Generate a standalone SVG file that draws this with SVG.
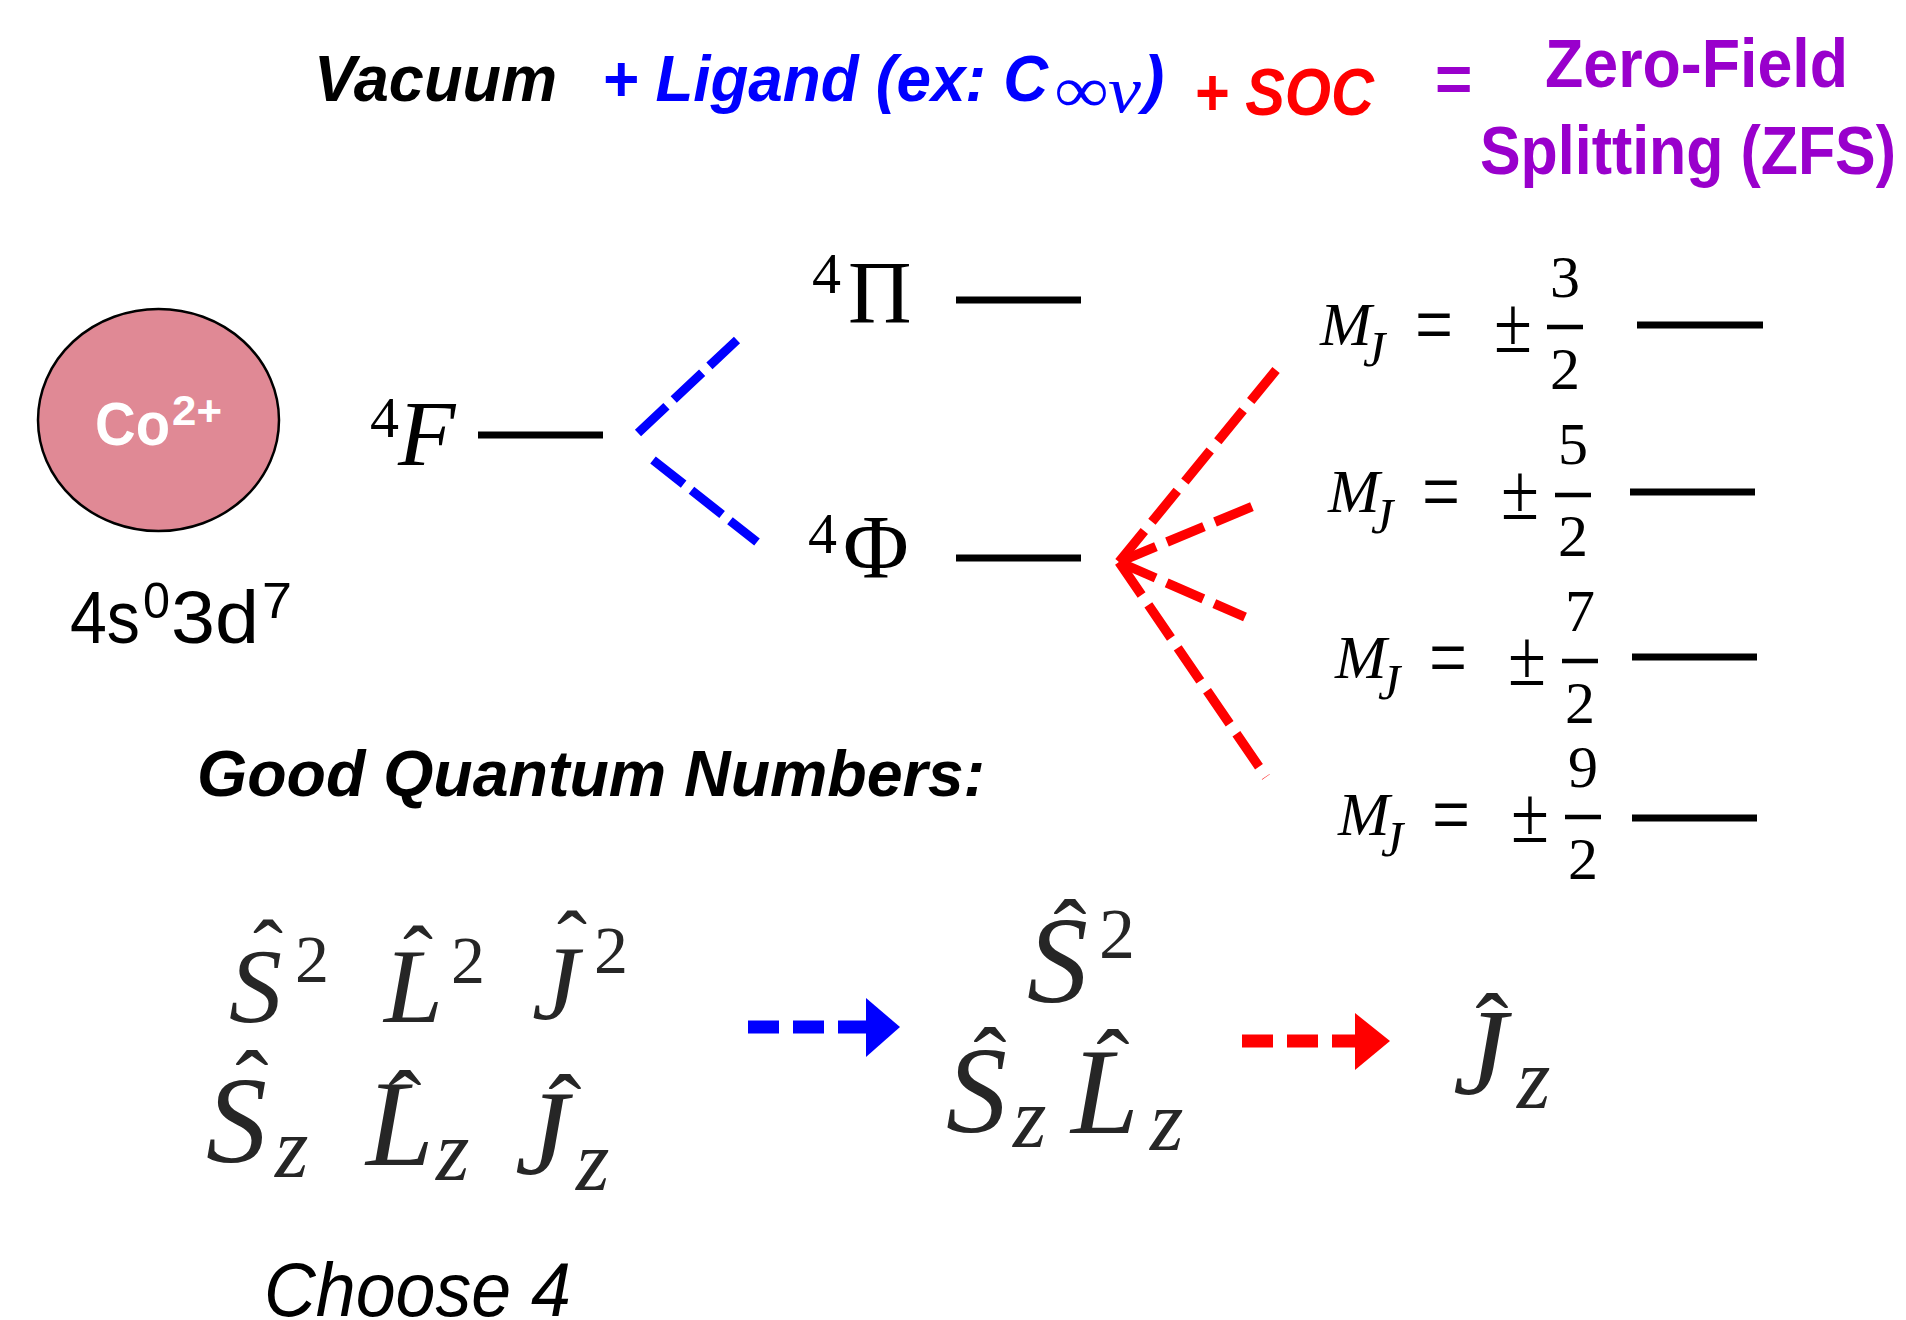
<svg xmlns="http://www.w3.org/2000/svg" width="1906" height="1320" viewBox="0 0 1906 1320">
<style>
.ttl{font-family:"Liberation Sans",Arial,sans-serif;font-weight:bold;font-style:italic;}
.pur{font-family:"Liberation Sans",Arial,sans-serif;font-weight:bold;fill:#9900CC;}
.ser{font-family:"Liberation Serif","Times New Roman",serif;}
.it{font-style:italic;}
.lvl{stroke:#000;stroke-width:7;fill:none;}
.fr{stroke:#000;stroke-width:4.5;}
.tex{font-family:"Liberation Serif","Times New Roman",serif;fill:#262626;}
.blue{stroke:#0000FF;stroke-width:9;fill:none;stroke-dasharray:39 10;}
.red{stroke:#FF0000;stroke-width:9.5;fill:none;stroke-dasharray:40 12;}
.sans{font-family:"Liberation Sans",Arial,sans-serif;}
</style>
<rect width="1906" height="1320" fill="#fff"/>

<g id="title">
<text class="ttl" x="314" y="101" font-size="64" textLength="243" lengthAdjust="spacingAndGlyphs">Vacuum</text>
<text class="ttl" x="602" y="101" font-size="64" fill="#0000FF" textLength="446" lengthAdjust="spacingAndGlyphs">+ Ligand (ex: C</text>
<text class="ser it" x="1055" y="112" font-size="66" fill="#0000FF" textLength="86" lengthAdjust="spacingAndGlyphs">∞v</text>
<text class="ttl" x="1143" y="101" font-size="64" fill="#0000FF">)</text>
<text class="ttl" x="1194" y="115" font-size="66" fill="#FF0000" textLength="180" lengthAdjust="spacingAndGlyphs">+ SOC</text>
<text class="pur" x="1435" y="101" font-size="64">=</text>
<text class="pur" x="1545" y="87" font-size="68" textLength="303" lengthAdjust="spacingAndGlyphs">Zero-Field</text>
<text class="pur" x="1480" y="174" font-size="68" textLength="416" lengthAdjust="spacingAndGlyphs">Splitting (ZFS)</text>
</g>

<g id="ion">
<ellipse cx="158.5" cy="420" rx="120.5" ry="111" fill="#E08995" stroke="#000" stroke-width="2.5"/>
<text class="sans" x="95" y="445" font-weight="bold" fill="#fff" font-size="62" textLength="75" lengthAdjust="spacingAndGlyphs">Co</text>
<text class="sans" x="172" y="425" font-weight="bold" fill="#fff" font-size="42" textLength="50" lengthAdjust="spacingAndGlyphs">2+</text>
</g>

<g id="config" class="sans" fill="#000">
<text x="70" y="643" font-size="74" textLength="70" lengthAdjust="spacingAndGlyphs">4s</text>
<text x="143" y="618" font-size="50" textLength="27" lengthAdjust="spacingAndGlyphs">0</text>
<text x="171" y="643" font-size="74" textLength="88" lengthAdjust="spacingAndGlyphs">3d</text>
<text x="262" y="618" font-size="50" textLength="30" lengthAdjust="spacingAndGlyphs">7</text>
</g>

<g id="term-4F">
<text class="ser"><tspan x="370" y="437" font-size="58">4</tspan><tspan class="it" x="398" y="465" font-size="94">F</tspan></text>
<line class="lvl" x1="478" y1="435" x2="603" y2="435"/>
</g>

<g id="term-4Pi">
<text class="ser"><tspan x="812" y="293" font-size="58">4</tspan><tspan x="848" y="322" font-size="88">Π</tspan></text>
<line class="lvl" x1="956" y1="300" x2="1081" y2="300"/>
</g>

<g id="term-4Phi">
<text class="ser"><tspan x="808" y="553" font-size="58">4</tspan><tspan x="843" y="578" font-size="90">Φ</tspan></text>
<line class="lvl" x1="956" y1="558" x2="1081" y2="558"/>
</g>

<g id="mj-3-2" class="ser">
<text><tspan class="it" x="1320" y="345" font-size="62">M</tspan><tspan class="it" x="1363" y="366" font-size="50">J</tspan><tspan x="1415" y="354" font-size="88" textLength="38" lengthAdjust="spacingAndGlyphs">=</tspan><tspan x="1494" y="352" font-size="80" textLength="38" lengthAdjust="spacingAndGlyphs">±</tspan></text>
<text x="1565" y="297" font-size="60" text-anchor="middle">3</text>
<line class="fr" x1="1547" y1="327" x2="1583" y2="327"/>
<text x="1565" y="389" font-size="60" text-anchor="middle">2</text>
<line class="lvl" x1="1637" y1="325" x2="1763" y2="325"/>
</g>

<g id="mj-5-2" class="ser">
<text><tspan class="it" x="1328" y="512" font-size="62">M</tspan><tspan class="it" x="1371" y="533" font-size="50">J</tspan><tspan x="1422" y="521" font-size="88" textLength="38" lengthAdjust="spacingAndGlyphs">=</tspan><tspan x="1501" y="519" font-size="80" textLength="38" lengthAdjust="spacingAndGlyphs">±</tspan></text>
<text x="1573" y="464" font-size="60" text-anchor="middle">5</text>
<line class="fr" x1="1555" y1="495" x2="1591" y2="495"/>
<text x="1573" y="556" font-size="60" text-anchor="middle">2</text>
<line class="lvl" x1="1630" y1="492" x2="1755" y2="492"/>
</g>

<g id="mj-7-2" class="ser">
<text><tspan class="it" x="1335" y="678" font-size="62">M</tspan><tspan class="it" x="1378" y="699" font-size="50">J</tspan><tspan x="1429" y="687" font-size="88" textLength="38" lengthAdjust="spacingAndGlyphs">=</tspan><tspan x="1508" y="685" font-size="80" textLength="38" lengthAdjust="spacingAndGlyphs">±</tspan></text>
<text x="1580" y="631" font-size="60" text-anchor="middle">7</text>
<line class="fr" x1="1562" y1="661" x2="1598" y2="661"/>
<text x="1580" y="723" font-size="60" text-anchor="middle">2</text>
<line class="lvl" x1="1632" y1="657" x2="1757" y2="657"/>
</g>

<g id="mj-9-2" class="ser">
<text><tspan class="it" x="1338" y="835" font-size="62">M</tspan><tspan class="it" x="1381" y="856" font-size="50">J</tspan><tspan x="1432" y="844" font-size="88" textLength="38" lengthAdjust="spacingAndGlyphs">=</tspan><tspan x="1511" y="842" font-size="80" textLength="38" lengthAdjust="spacingAndGlyphs">±</tspan></text>
<text x="1583" y="787" font-size="60" text-anchor="middle">9</text>
<line class="fr" x1="1565" y1="817" x2="1601" y2="817"/>
<text x="1583" y="879" font-size="60" text-anchor="middle">2</text>
<line class="lvl" x1="1632" y1="818" x2="1757" y2="818"/>
</g>

<g id="good-qn">
<text class="ttl" x="197" y="796" font-size="64" textLength="788" lengthAdjust="spacingAndGlyphs">Good Quantum Numbers:</text>
</g>

<g id="ops-vacuum" class="tex">
<text><tspan class="it" x="229" y="1022" font-size="106">S</tspan><tspan x="268" y="983" font-size="90" text-anchor="middle">ˆ</tspan><tspan x="295" y="982" font-size="68">2</tspan></text>
<text><tspan class="it" x="384" y="1022" font-size="106">L</tspan><tspan x="418" y="989" font-size="90" text-anchor="middle">ˆ</tspan><tspan x="451" y="983" font-size="68">2</tspan></text>
<text><tspan class="it" x="532" y="1019" font-size="106">J</tspan><tspan x="572" y="974" font-size="90" text-anchor="middle">ˆ</tspan><tspan x="594" y="973" font-size="68">2</tspan></text>
<text><tspan class="it" x="206" y="1162" font-size="122">S</tspan><tspan x="252" y="1120" font-size="100" text-anchor="middle">ˆ</tspan><tspan class="it" x="275" y="1177" font-size="86">z</tspan></text>
<text><tspan class="it" x="366" y="1165" font-size="122">L</tspan><tspan x="405" y="1140" font-size="100" text-anchor="middle">ˆ</tspan><tspan class="it" x="436" y="1180" font-size="86">z</tspan></text>
<text><tspan class="it" x="515" y="1174" font-size="120">J</tspan><tspan x="565" y="1144" font-size="100" text-anchor="middle">ˆ</tspan><tspan class="it" x="576" y="1190" font-size="86">z</tspan></text>
</g>
<g id="choose">
<text class="sans" x="264" y="1316" font-style="italic" font-size="76" textLength="307" lengthAdjust="spacingAndGlyphs">Choose 4</text>
</g>

<g id="ops-ligand" class="tex">
<text><tspan class="it" x="1027" y="1002" font-size="122">S</tspan><tspan x="1070" y="969" font-size="100" text-anchor="middle">ˆ</tspan><tspan x="1099" y="958" font-size="72">2</tspan></text>
<text><tspan class="it" x="946" y="1132" font-size="122">S</tspan><tspan x="990" y="1097" font-size="100" text-anchor="middle">ˆ</tspan><tspan class="it" x="1013" y="1147" font-size="86">z</tspan></text>
<text><tspan class="it" x="1071" y="1133" font-size="122">L</tspan><tspan x="1113" y="1099" font-size="100" text-anchor="middle">ˆ</tspan><tspan class="it" x="1150" y="1150" font-size="86">z</tspan></text>
</g>

<g id="ops-soc" class="tex">
<text><tspan class="it" x="1453" y="1094" font-size="122">J</tspan><tspan x="1492" y="1063" font-size="100" text-anchor="middle">ˆ</tspan><tspan class="it" x="1517" y="1108" font-size="86">z</tspan></text>
</g>

<g id="connectors">
<line class="blue" x1="638" y1="433" x2="737" y2="340"/>
<line class="blue" x1="653" y1="460" x2="757" y2="542"/>
<line class="red" x1="1119" y1="562" x2="1281" y2="364"/>
<line class="red" x1="1119" y1="562" x2="1263" y2="502"/>
<line class="red" x1="1119" y1="562" x2="1245" y2="617"/>
<line class="red" x1="1119" y1="562" x2="1266" y2="777"/>
<line x1="748" y1="1027" x2="868" y2="1027" stroke="#0000FF" stroke-width="13" stroke-dasharray="31 14"/>
<polygon points="866,998 900,1027 866,1057" fill="#0000FF"/>
<line x1="1242" y1="1041" x2="1357" y2="1041" stroke="#FF0000" stroke-width="13" stroke-dasharray="31 14"/>
<polygon points="1355,1013 1390,1041 1355,1070" fill="#FF0000"/>
</g>
</svg>
